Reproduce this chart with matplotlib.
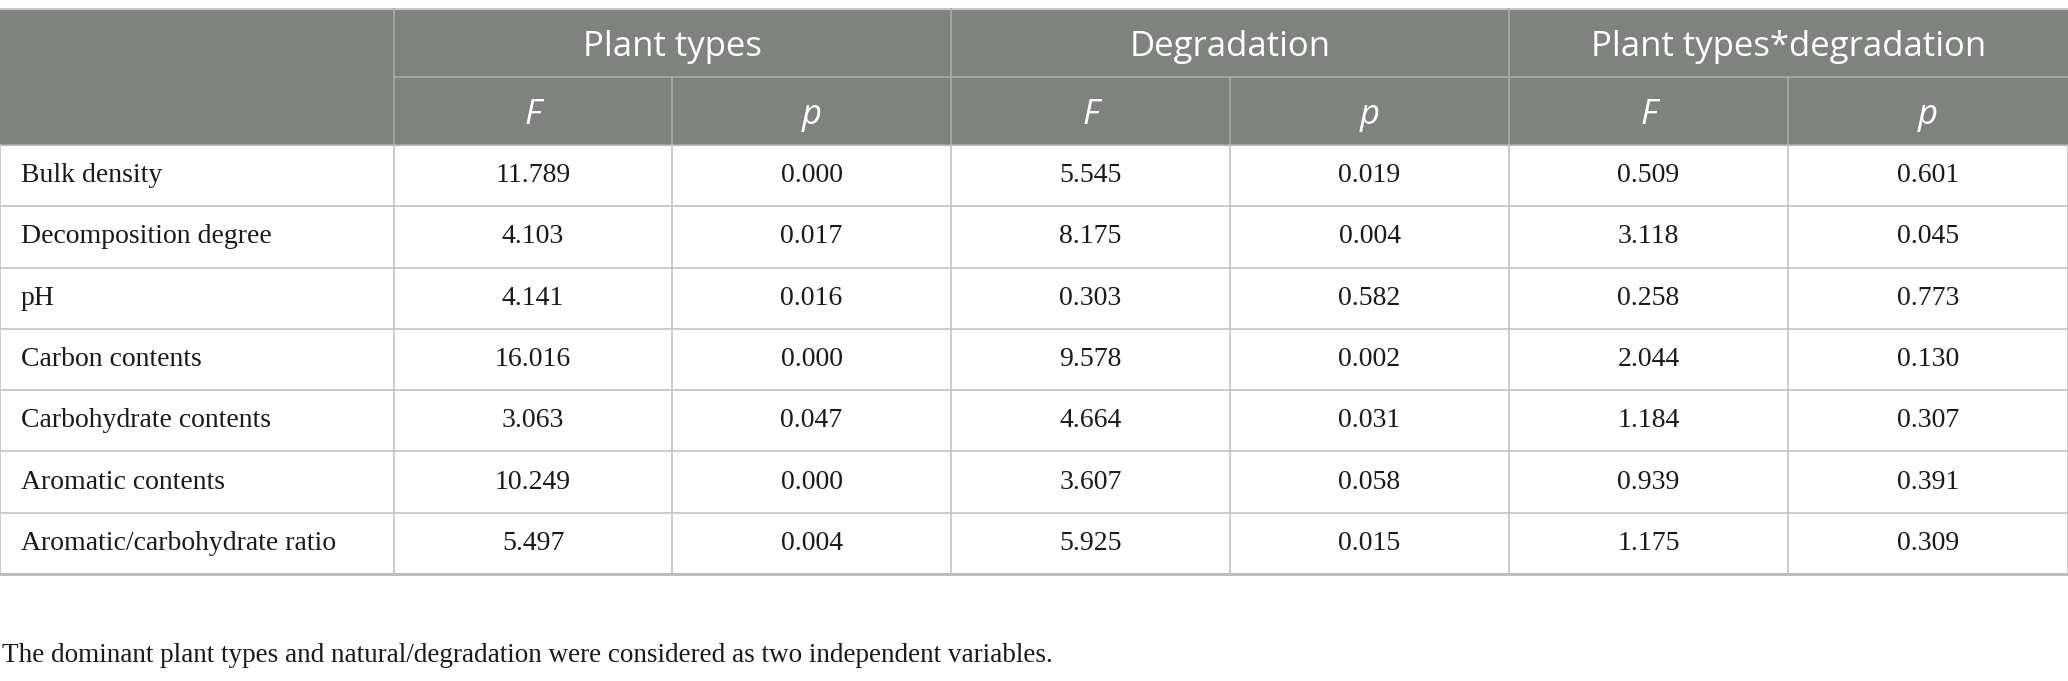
import matplotlib.pyplot as plt
from matplotlib.patches import Rectangle

# Table contents.
groups = ["Plant types", "Degradation", "Plant types*degradation"]
stats = ["F", "p"]
variables = ["Bulk density", "Decomposition degree", "pH", "Carbon contents",
             "Carbohydrate contents", "Aromatic contents", "Aromatic/carbohydrate ratio"]
plant_F = ["11.789", "4.103", "4.141", "16.016", "3.063", "10.249", "5.497"]
plant_p = ["0.000", "0.017", "0.016", "0.000", "0.047", "0.000", "0.004"]
degr_F = ["5.545", "8.175", "0.303", "9.578", "4.664", "3.607", "5.925"]
degr_p = ["0.019", "0.004", "0.582", "0.002", "0.031", "0.058", "0.015"]
inter_F = ["0.509", "3.118", "0.258", "2.044", "1.184", "0.939", "1.175"]
inter_p = ["0.601", "0.045", "0.773", "0.130", "0.307", "0.391", "0.309"]
footnote = "The dominant plant types and natural/degradation were considered as two independent variables."

columns = [plant_F, plant_p, degr_F, degr_p, inter_F, inter_p]

# Layout in pixels.
W, H = 2068, 681
col_x = [0, 394, 672, 951, 1230, 1509, 1788, 2068]
top, h1, h2, bottom = 9, 77, 145, 574
row_h = (bottom - h2) / len(variables)

header_bg = "#808280"
grid = "#c4c4c4"
head_grid = "#a9aba9"
sans = ["Open Sans", "DejaVu Sans"]
serif = ["Liberation Serif", "DejaVu Serif"]

fig = plt.figure(figsize=(W / 100, H / 100), dpi=100)
ax = fig.add_axes([0, 0, 1, 1])
ax.set_xlim(0, W)
ax.set_ylim(H, 0)
ax.axis("off")

# Header background.
ax.add_patch(Rectangle((0, top), W, h2 - top, color=header_bg, lw=0))

# Header lines.
ax.plot([0, W], [top, top], color="#c8c8c8", lw=1.5)
ax.plot([col_x[1], W], [h1, h1], color=head_grid, lw=1.2)
ax.plot([0, W], [h2, h2], color=head_grid, lw=1.2)
for i in [1, 3, 5]:
    ax.plot([col_x[i], col_x[i]], [top, h2], color=head_grid, lw=1.2)
for i in [2, 4, 6]:
    ax.plot([col_x[i], col_x[i]], [h1, h2], color=head_grid, lw=1.2)

# Header text.
for g, name in enumerate(groups):
    xc = (col_x[1 + 2 * g] + col_x[3 + 2 * g]) / 2
    ax.text(xc, (top + h1) / 2 + 4, name, color="white", fontsize=25,
            family=sans, ha="center", va="center")
    for s, st in enumerate(stats):
        i = 1 + 2 * g + s
        ax.text((col_x[i] + col_x[i + 1]) / 2, (h1 + h2) / 2 + 4, st, color="white",
                fontsize=25, family=sans, style="italic", ha="center", va="center")

# Body lines.
for r in range(1, len(variables)):
    y = h2 + r * row_h
    ax.plot([0, W], [y, y], color=grid, lw=1.2)
ax.plot([0, W], [bottom, bottom], color="#b8b8b8", lw=2)
for x in col_x:
    ax.plot([x, x], [h2, bottom], color=grid, lw=1.2)

# Body text.
for r, var in enumerate(variables):
    yc = h2 + (r + 0.5) * row_h
    ax.text(21, yc, var, fontsize=20, family=serif, ha="left", va="center", color="#1a1a1a")
    for c, col in enumerate(columns):
        xc = (col_x[c + 1] + col_x[c + 2]) / 2
        ax.text(xc, yc, col[r], fontsize=20, family=serif, ha="center", va="center", color="#1a1a1a")

ax.text(2, 656, footnote, fontsize=19.5, family=serif, ha="left", va="center", color="#1a1a1a")

fig.savefig("out.png", dpi=100)
